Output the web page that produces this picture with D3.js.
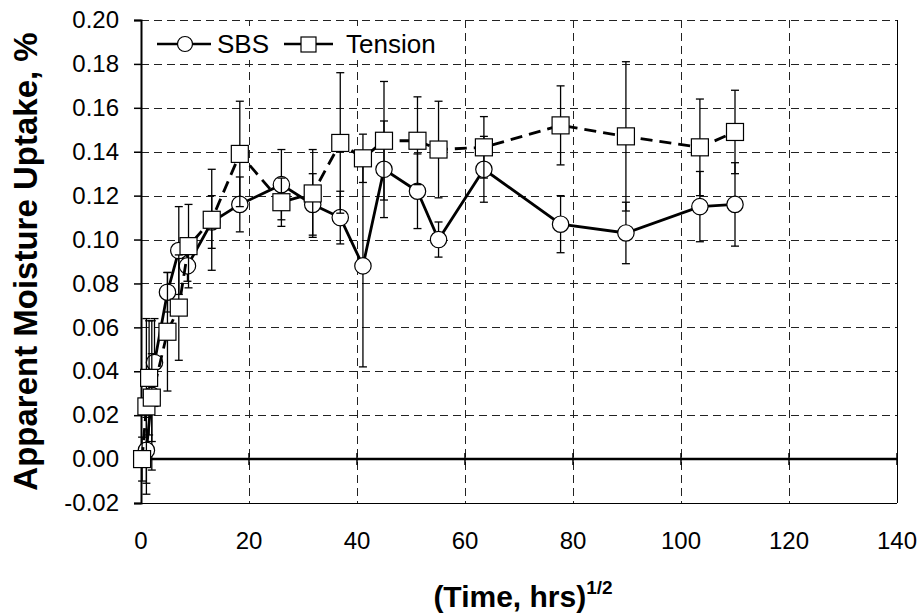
<!DOCTYPE html>
<html>
<head>
<meta charset="utf-8">
<script src="https://cdn.jsdelivr.net/npm/d3@7"></script>
<style>
  body { margin: 0; background: #fff; }
  text { font-family: Arial, "Liberation Sans", sans-serif; fill: #000; }
</style>
</head>
<body>
<svg id="chart" width="924" height="616"></svg>
<script>
// sqrt(time) values and uptake for each series
var sbsX = [1.0, 2.0, 2.5, 4.9, 7.0, 8.6, 13.1, 18.3, 26.0, 31.8, 36.9, 41.1, 45.0, 51.2, 55.1, 63.5, 77.7, 89.8, 103.5, 110.0];
var sbsY = [0.004, 0.029, 0.044, 0.076, 0.095, 0.088, 0.108, 0.116, 0.125, 0.116, 0.110, 0.088, 0.132, 0.122, 0.100, 0.132, 0.107, 0.103, 0.115, 0.116];
var sbsErr = [0.015, 0.034, 0.020, 0.009, 0.020, 0.007, 0.012, 0.0125, 0.016, 0.014, 0.012, 0.046, 0.022, 0.017, 0.008, 0.015, 0.013, 0.014, 0.016, 0.019];

var tenX = [0.2, 1.0, 1.5, 2.0, 4.9, 7.0, 8.8, 13.1, 18.3, 26.0, 31.8, 36.9, 41.1, 45.0, 51.2, 55.1, 63.5, 77.7, 89.8, 103.5, 110.0];
var tenY = [0.000, 0.024, 0.037, 0.028, 0.058, 0.069, 0.097, 0.109, 0.139, 0.117, 0.121, 0.144, 0.137, 0.145, 0.145, 0.141, 0.142, 0.152, 0.147, 0.142, 0.149];
var tenErr = [0.010, 0.040, 0.026, 0.020, 0.027, 0.024, 0.019, 0.023, 0.024, 0.011, 0.020, 0.032, 0.011, 0.027, 0.020, 0.022, 0.014, 0.018, 0.034, 0.022, 0.019];

var xTickVals = [0, 20, 40, 60, 80, 100, 120, 140];
var yTickVals = [-0.02, 0.00, 0.02, 0.04, 0.06, 0.08, 0.10, 0.12, 0.14, 0.16, 0.18, 0.20];

var svg = d3.select("#chart");
var pLeft = 141, pRight = 897, pTop = 20, pBottom = 503;

var x = d3.scaleLinear().domain([0, 140]).range([pLeft, pRight]);
var y = d3.scaleLinear().domain([-0.02, 0.20]).range([pBottom, pTop]);

// dashed grid
var grid = svg.append("g").attr("stroke", "#222").attr("stroke-width", 1)
  .attr("stroke-dasharray", "8,5").attr("fill", "none");
grid.selectAll(".hg").data(yTickVals.filter(function(d) { return d > 0.001; }))
  .enter().append("line")
  .attr("x1", pLeft).attr("x2", pRight)
  .attr("y1", function(d) { return Math.round(y(d)) + 0.5; })
  .attr("y2", function(d) { return Math.round(y(d)) + 0.5; });
grid.selectAll(".vg").data(xTickVals.filter(function(d) { return d > 0 && d < 140; }))
  .enter().append("line")
  .attr("y1", pTop).attr("y2", pBottom)
  .attr("x1", function(d) { return Math.round(x(d)) + 0.5; })
  .attr("x2", function(d) { return Math.round(x(d)) + 0.5; });

// plot frame: right and bottom solid
svg.append("line").attr("x1", pRight + 0.5).attr("x2", pRight + 0.5).attr("y1", pTop).attr("y2", pBottom)
  .attr("stroke", "#000").attr("stroke-width", 1);
svg.append("line").attr("x1", pLeft).attr("x2", pRight).attr("y1", pBottom + 0.5).attr("y2", pBottom + 0.5)
  .attr("stroke", "#000").attr("stroke-width", 1);

// y axis
var yAxis = d3.axisLeft(y).tickValues(yTickVals)
  .tickFormat(function(d) { return d.toFixed(2); })
  .tickSize(7).tickPadding(15);
var ya = svg.append("g").attr("transform", "translate(" + pLeft + ",0)").call(yAxis);
ya.select(".domain").attr("stroke-width", 2);
ya.selectAll(".tick line").attr("stroke-width", 1.5);
ya.selectAll("text").style("font-size", "24px").attr("fill", "#000");

// x axis crossing at zero, labels below the plot
var xa = svg.append("g").attr("transform", "translate(0," + y(0) + ")");
xa.append("line").attr("x1", pLeft).attr("x2", pRight).attr("stroke", "#000").attr("stroke-width", 2.5);
xa.selectAll(".xt").data(xTickVals.filter(function(d) { return d > 0; }))
  .enter().append("line")
  .attr("x1", function(d) { return x(d); }).attr("x2", function(d) { return x(d); })
  .attr("y1", -6).attr("y2", 6).attr("stroke", "#000").attr("stroke-width", 1.5);
svg.selectAll(".xl").data(xTickVals).enter().append("text")
  .attr("x", function(d) { return x(d); }).attr("y", 549)
  .attr("text-anchor", "middle").style("font-size", "24px")
  .text(function(d) { return d; });

// axis titles
var xt = svg.append("text").attr("x", 523).attr("y", 607).attr("text-anchor", "middle")
  .style("font-size", "30px").style("font-weight", "bold");
xt.append("tspan").text("(Time, hrs)");
xt.append("tspan").attr("dy", -13).style("font-size", "19px").text("1/2");

svg.append("text").attr("transform", "translate(37," + ((pTop + pBottom) / 2) + ") rotate(-90)")
  .attr("text-anchor", "middle").style("font-size", "33px").style("font-weight", "bold")
  .text("Apparent Moisture Uptake, %");

function drawSeries(xs, ys, es, shape, dash) {
  var pts = xs.map(function(d, i) { return { x: d, y: ys[i], e: es[i] }; });
  var g = svg.append("g");
  var eb = g.append("g").attr("stroke", "#000").attr("stroke-width", 1.3);
  pts.forEach(function(p) {
    var px = x(p.x);
    eb.append("line").attr("x1", px).attr("x2", px).attr("y1", y(p.y - p.e)).attr("y2", y(p.y + p.e));
    eb.append("line").attr("x1", px - 4).attr("x2", px + 4).attr("y1", y(p.y - p.e)).attr("y2", y(p.y - p.e));
    eb.append("line").attr("x1", px - 4).attr("x2", px + 4).attr("y1", y(p.y + p.e)).attr("y2", y(p.y + p.e));
  });
  var line = d3.line().x(function(d) { return x(d.x); }).y(function(d) { return y(d.y); });
  g.append("path").datum(pts).attr("d", line).attr("fill", "none")
    .attr("stroke", "#000").attr("stroke-width", 2.8)
    .attr("stroke-dasharray", dash ? "12,7" : null);
  if (shape === "circle") {
    g.selectAll("circle").data(pts).enter().append("circle")
      .attr("cx", function(d) { return x(d.x); }).attr("cy", function(d) { return y(d.y); })
      .attr("r", 8.2).attr("fill", "#fff").attr("stroke", "#000").attr("stroke-width", 1.2);
  } else {
    g.selectAll("rect").data(pts).enter().append("rect")
      .attr("x", function(d) { return x(d.x) - 8.5; }).attr("y", function(d) { return y(d.y) - 8.5; })
      .attr("width", 17).attr("height", 17)
      .attr("fill", "#fff").attr("stroke", "#000").attr("stroke-width", 1.2);
  }
}

drawSeries(sbsX, sbsY, sbsErr, "circle", false);
drawSeries(tenX, tenY, tenErr, "square", true);

// legend
var lg = svg.append("g");
lg.append("rect").attr("x", 150).attr("y", 26).attr("width", 300).attr("height", 34).attr("fill", "#fff");
lg.append("line").attr("x1", 157).attr("x2", 211).attr("y1", 44).attr("y2", 44).attr("stroke", "#000").attr("stroke-width", 2.5);
lg.append("circle").attr("cx", 185).attr("cy", 44).attr("r", 7.5).attr("fill", "#fff").attr("stroke", "#000").attr("stroke-width", 1.2);
lg.append("text").attr("x", 217).attr("y", 53).style("font-size", "26px").text("SBS");
lg.append("line").attr("x1", 284).attr("x2", 333).attr("y1", 44).attr("y2", 44).attr("stroke", "#000").attr("stroke-width", 2.5);
lg.append("rect").attr("x", 301).attr("y", 37).attr("width", 15).attr("height", 15).attr("fill", "#fff").attr("stroke", "#000").attr("stroke-width", 1.2);
lg.append("text").attr("x", 346).attr("y", 53).style("font-size", "26px").text("Tension");
</script>
</body>
</html>
